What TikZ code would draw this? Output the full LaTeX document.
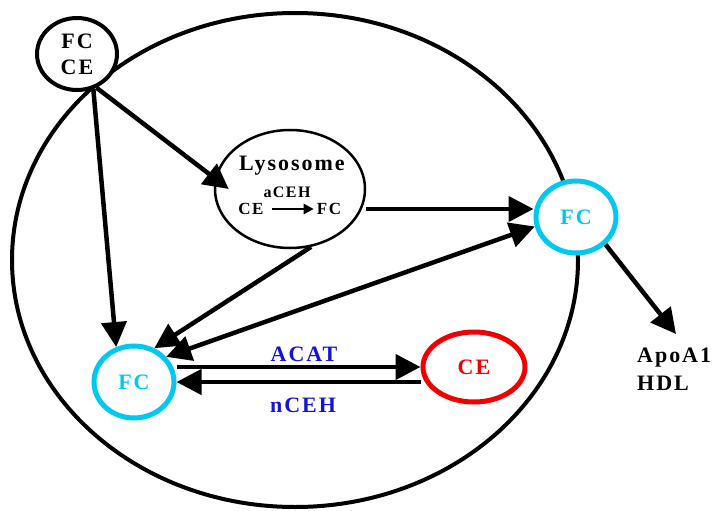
\documentclass[tikz,border=0pt]{standalone}
\usepackage{fontspec}
\setmainfont{Liberation Serif}[LetterSpace=9]
\usetikzlibrary{shapes.geometric,arrows.meta,calc}
\definecolor{fccyan}{RGB}{0,200,240}
\definecolor{acatblue}{RGB}{20,20,210}
\definecolor{cered}{RGB}{240,0,0}

\begin{document}
\begin{tikzpicture}[x=1pt, y=-1pt,
  blob/.style={ellipse, draw, fill=white, minimum width=80pt, minimum height=72pt,
    inner sep=0pt, font=\fontsize{22}{26}\selectfont\bfseries},
  flow/.style={line width=4.5pt, -{Triangle[length=25pt, width=25pt]}},
  lbl/.style={font=\fontsize{22}{28}\selectfont\bfseries, inner sep=0pt}]
  \useasboundingbox (0,0) rectangle (713,511);

  % Cell
  \draw[line width=4pt] (295,260) ellipse [x radius=283, y radius=247];

  % Lipoprotein outside
  \node[blob, line width=4pt, align=center] (lipo) at (77,54) {FC\\CE};

  % Lysosome
  \node[ellipse, draw, fill=white, line width=2.5pt, minimum width=150pt,
    minimum height=118pt] (lyso) at (290,189) {};
  \node[lbl, font=\fontsize{22}{24}\selectfont\bfseries] (lysotxt) at (292,166) {Lysosome};
  \node[lbl, font=\fontsize{16}{18}\selectfont\bfseries] (aceh) at (287,192) {aCEH};
  \node[lbl, font=\fontsize{17}{20}\selectfont\bfseries] (ce1) at (251,209) {CE};
  \node[lbl, font=\fontsize{17}{20}\selectfont\bfseries] (fc1) at (329,209) {FC};
  \draw[line width=2.5pt, -{Triangle[length=10pt, width=10pt]}]
    ([xshift=8pt]ce1.east) -- ([xshift=-3pt]fc1.west);

  % Free cholesterol pools and esters
  \node[blob, draw=fccyan, text=fccyan, line width=5pt] (fcR) at (576,217) {FC};
  \node[blob, draw=fccyan, text=fccyan, line width=5pt] (fcL) at (134,382) {FC};
  \node[blob, draw=cered, text=cered, line width=5pt, minimum width=102pt,
    minimum height=70pt] (ceR) at (474,367) {CE};

  % Efflux acceptors
  \node[lbl, align=left, anchor=north west] (apo) at (637,348) {ApoA1\\HDL};
  \coordinate (apotip) at (676,334);

  % Uptake
  \draw[flow] (lipo.-65) -- (fcL.117);
  \draw[flow] (lipo.-60) -- ([xshift=15pt]lyso.west);

  % Lysosome out
  \draw[flow] ([yshift=-20pt]lyso.east) -- ([yshift=-20pt]lyso.east -| fcR.west);
  \draw[flow] (lyso.-70) -- (fcL.59);

  % Between FC pools
  \draw[flow, {Triangle[length=25pt, width=25pt]}-{Triangle[length=25pt, width=25pt]}]
    (fcL.38) -- (fcR.193);

  % Esterification
  \draw[flow] (fcL.east |- ceR.west) -- (ceR.west);
  \draw[flow] ([yshift=-15pt]ceR.west) -- ([yshift=-15pt]ceR.west -| fcL.east);
  \node[lbl, text=acatblue] (acat) at (304,354) {ACAT};
  \node[lbl, text=acatblue] (nceh) at (303,405) {nCEH};

  % Efflux
  \draw[flow] (fcR.-43) -- (apotip);
\end{tikzpicture}
\end{document}
